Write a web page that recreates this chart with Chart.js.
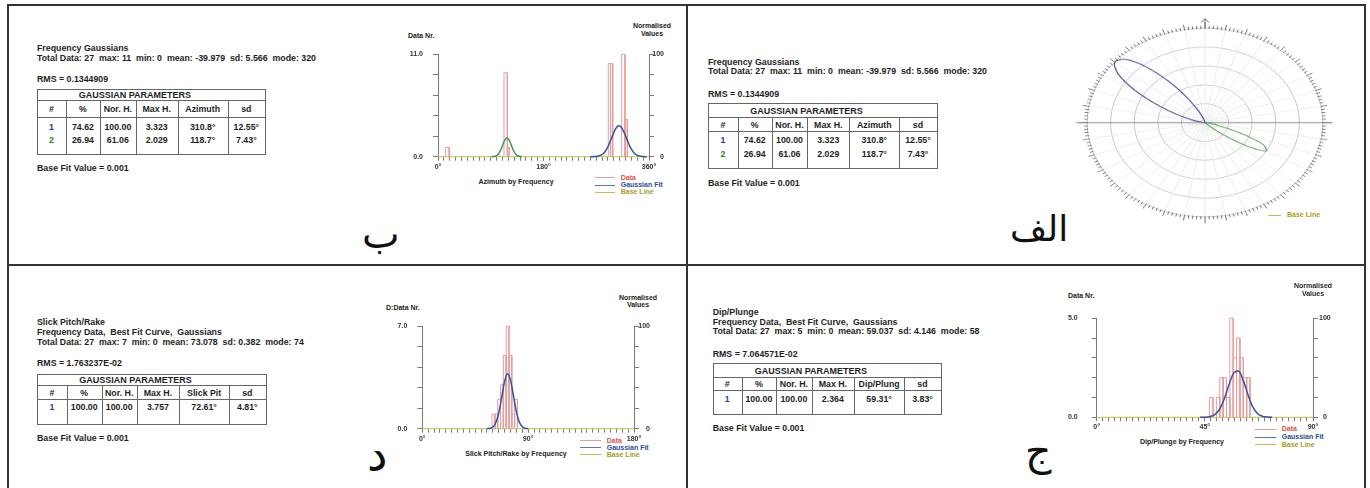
<!DOCTYPE html>
<html>
<head>
<meta charset="utf-8">
<script src="https://cdn.jsdelivr.net/npm/chart.js@4.4.1/dist/chart.umd.min.js"></script>
<style>
  body { margin:0; width:1370px; height:488px; background:#fff; position:relative; overflow:hidden;
         font-family:"Liberation Sans", Arial, sans-serif; color:#1e1e1e; }
  .rule { position:absolute; background:#333; }
  .t { position:absolute; font-weight:bold; font-size:8.8px; line-height:10px; white-space:pre; }
  .s { position:absolute; font-weight:bold; font-size:7px; line-height:7.6px; white-space:pre; color:#222; }
  .c { text-align:center; }
  .ar { position:absolute; font-family:"DejaVu Sans", sans-serif; color:#111; }
  canvas { position:absolute; }
  .ln { position:absolute; height:1px; }
</style>
</head>
<body>
<!-- frame -->
<div class="rule" style="left:7px;top:4px;width:1359px;height:2px"></div>
<div class="rule" style="left:7px;top:4px;width:2px;height:484px"></div>
<div class="rule" style="left:1364px;top:4px;width:2px;height:484px"></div>
<div class="rule" style="left:686px;top:4px;width:2px;height:484px"></div>
<div class="rule" style="left:7px;top:264px;width:1359px;height:2px"></div>

<!-- ب -->
<div class="t" style="left:37px;top:42.7px">Frequency Gaussians</div>
<div class="t" style="left:37px;top:53.3px">Total Data: 27  max: 11  min: 0  mean: -39.979  sd: 5.566  mode: 320</div>
<div class="t" style="left:37px;top:74.3px">RMS = 0.1344909</div>
<div id="tabB"></div>
<div class="t" style="left:37px;top:163.3px">Base Fit Value = 0.001</div>
<div class="ar" style="left:362px;top:214px;font-size:40px;line-height:40px">ب</div>
<div class="s" style="left:408px;top:32px">Data Nr.</div>
<div class="s c" style="left:622px;top:22px;width:60px">Normalised<br>Values</div>
<div class="s c" style="left:466px;top:178px;width:100px">Azimuth by Frequency</div>
<div id="legB"></div>
<canvas id="chartB" width="288" height="140" style="left:388px;top:40px"></canvas>

<!-- الف -->
<div class="t" style="left:708px;top:56.7px">Frequency Gaussians</div>
<div class="t" style="left:708px;top:66.3px">Total Data: 27  max: 11  min: 0  mean: -39.979  sd: 5.566  mode: 320</div>
<div class="t" style="left:708px;top:89px">RMS = 0.1344909</div>
<div id="tabA"></div>
<div class="t" style="left:708px;top:177.7px">Base Fit Value = 0.001</div>
<div class="ar" style="left:1010px;top:211px;font-size:36px;line-height:36px">الف</div>
<div style="position:absolute;left:1073px;top:17.1px;width:264px;height:264px;transform:scaleY(0.8);transform-origin:0 0">
  <canvas id="rose" width="264" height="264" style="left:0;top:0"></canvas>
</div>
<div id="legA"></div>

<!-- د -->
<div class="t" style="left:37px;top:316.7px">Slick Pitch/Rake</div>
<div class="t" style="left:37px;top:326.7px">Frequency Data,  Best Fit Curve,  Gaussians</div>
<div class="t" style="left:37px;top:336.7px">Total Data: 27  max: 7  min: 0  mean: 73.078  sd: 0.382  mode: 74</div>
<div class="t" style="left:37px;top:358.3px">RMS = 1.763237E-02</div>
<div id="tabD"></div>
<div class="t" style="left:37px;top:433.3px">Base Fit Value = 0.001</div>
<div class="ar" style="left:367px;top:432px;font-size:46px;line-height:46px">د</div>
<div class="s" style="left:386px;top:304px">D:Data Nr.</div>
<div class="s c" style="left:608px;top:293.5px;width:60px">Normalised<br>Values</div>
<div class="s c" style="left:456px;top:449.5px;width:120px">Slick Pitch/Rake by Frequency</div>
<div id="legD"></div>
<canvas id="chartD" width="282" height="140" style="left:380px;top:312px"></canvas>

<!-- ج -->
<div class="t" style="left:712.7px;top:306.7px">Dip/Plunge</div>
<div class="t" style="left:712.7px;top:316.7px">Frequency Data,  Best Fit Curve,  Gaussians</div>
<div class="t" style="left:712.7px;top:326.3px">Total Data: 27  max: 5  min: 0  mean: 59.037  sd: 4.146  mode: 58</div>
<div class="t" style="left:712.7px;top:349px">RMS = 7.064571E-02</div>
<div id="tabJ"></div>
<div class="t" style="left:712.7px;top:422.7px">Base Fit Value = 0.001</div>
<div class="ar" style="left:1025px;top:431px;font-size:41px;line-height:41px">ج</div>
<div class="s" style="left:1068px;top:292px">Data Nr.</div>
<div class="s c" style="left:1283px;top:282px;width:60px">Normalised<br>Values</div>
<div class="s c" style="left:1132px;top:438px;width:100px">Dip/Plunge by Frequency</div>
<div id="legJ"></div>
<canvas id="chartJ" width="293" height="140" style="left:1050px;top:300px"></canvas>

<script>
// ---- ب : azimuth histogram (Data Nr.) ----
const azBinLo = [13, 112.6, 118.3, 290.6, 294.4, 313.3, 319];
const azBinHi = [19, 118.3, 121.5, 294.4, 298.1, 319, 323];
const azCounts = [1, 9, 1, 10, 10, 11, 4];
const azFit1Deg = [260, 266, 272, 278, 283, 288, 293, 298, 303, 308, 313, 318, 323, 328, 333, 338, 344, 350, 356];
const azFit1Val = [0, 0.01, 0.045, 0.16, 0.40, 0.84, 1.50, 2.30, 2.99, 3.32, 3.14, 2.54, 1.75, 1.03, 0.52, 0.22, 0.065, 0.015, 0];
const azFit2Deg = [91, 97, 101, 105, 109, 113, 117, 121, 125, 129, 133, 137, 143];
const azFit2Val = [0, 0.04, 0.16, 0.47, 1.02, 1.66, 2.02, 1.84, 1.25, 0.64, 0.24, 0.07, 0];
const azXLabels = [0, 180, 360];

// ---- الف : rose of the two gaussians (normalised 0-100) ----
const roseBlueDeg = [270, 275, 280, 285, 290, 295, 300, 305, 310, 315, 320, 325, 330, 335, 340, 345, 350];
const roseBlueVal = [0.5, 1.7, 4.9, 12.1, 25.3, 45, 69, 89.9, 99.8, 94.5, 76.4, 52.7, 31, 15.5, 6.7, 2.4, 0.8];
const roseGreenDeg = [95, 100, 105, 110, 115, 120, 125, 130, 135, 140];
const roseGreenVal = [0.4, 2.6, 11.1, 30.9, 53.9, 59.9, 42.8, 19.2, 5.5, 1.0];

// ---- د : slick pitch/rake ----
const slBinLo = [59.3, 61.7, 64.1, 66.5, 68.9, 71.3, 73.7, 76.1, 78.5];
const slBinHi = [61.7, 64.1, 66.5, 68.9, 71.3, 73.7, 76.1, 78.5, 80.9];
const slCounts = [1, 1, 2, 3, 5, 7, 5, 1, 2];
const slFitDeg = [55, 57.5, 60, 62.5, 65, 67.5, 70, 72.5, 75, 77.5, 80, 82.5, 85, 87.5, 90];
const slFitVal = [0.005, 0.027, 0.12, 0.41, 1.07, 2.14, 3.24, 3.76, 3.32, 2.24, 1.15, 0.45, 0.14, 0.03, 0.005];
const slXLabels = [0, 90, 180];

// ---- ج : dip/plunge ----
const dpBinLo = [47.0, 49.8, 51.2, 52.6, 54.0, 55.4, 56.8, 58.2, 59.6, 61.0, 62.4];
const dpBinHi = [48.4, 51.2, 52.6, 54.0, 55.4, 56.8, 58.2, 59.6, 61.0, 62.4, 63.8];
const dpCounts = [1, 1, 2, 2, 1, 5, 3, 4, 3, 2, 2];
const dpFitDeg = [43, 45, 47, 49, 51, 53, 55, 57, 59, 61, 63, 65, 67, 69, 71, 73];
const dpFitVal = [0.001, 0.006, 0.03, 0.12, 0.38, 0.90, 1.63, 2.23, 2.33, 1.85, 1.12, 0.51, 0.18, 0.048, 0.01, 0.001];
const dpXLabels = [0, 45, 90];

// table rows
const tableHeadsAz = ['#', '%', 'Nor. H.', 'Max H.', 'Azimuth', 'sd'];
const tableRowsAz = [['1', '74.62', '100.00', '3.323', '310.8°', '12.55°'], ['2', '26.94', '61.06', '2.029', '118.7°', '7.43°']];
const tableHeadsSl = ['#', '%', 'Nor. H.', 'Max H.', 'Slick Pit', 'sd'];
const tableRowsSl = [['1', '100.00', '100.00', '3.757', '72.61°', '4.81°']];
const tableHeadsDp = ['#', '%', 'Nor. H.', 'Max H.', 'Dip/Plung', 'sd'];
const tableRowsDp = [['1', '100.00', '100.00', '2.364', '59.31°', '3.83°']];

const RED = '#e89c9c', BLUE = '#2f52a2', GREEN = '#3a9460', OLIVE = '#c2c04a', AXIS = '#7a7a7a';
const numColor = {'1': '#1c3d9c', '2': '#1d8a2a'};

Chart.defaults.font.family = '"Liberation Sans", Arial, sans-serif';
Chart.defaults.font.size = 7;
Chart.defaults.font.weight = 'bold';
Chart.defaults.color = '#333';
Chart.defaults.animation = false;

function paramTable(id, left, top, edges, lines, rowYs, heads, rows) {
  const box = document.getElementById(id);
  box.style.cssText = `position:absolute;left:${left}px;top:${top}px;`;
  const w = edges[edges.length - 1], h = lines[lines.length - 1];
  let html = '';
  lines.forEach(y => { html += `<div class="rule" style="background:#666;left:0;top:${y}px;width:${w + 1}px;height:1px"></div>`; });
  edges.forEach((x, i) => {
    const y0 = (i === 0 || i === edges.length - 1) ? 0 : lines[1];
    html += `<div class="rule" style="background:#666;left:${x}px;top:${y0}px;width:1px;height:${h - y0}px"></div>`;
  });
  const cell = (x0, x1, y, txt, color) =>
    `<div class="t" style="left:${x0}px;width:${x1 - x0}px;text-align:center;top:${y - 5}px;${color ? 'color:' + color : ''}">${txt}</div>`;
  html += `<div class="t" style="left:42px;top:${(lines[0] + lines[1]) / 2 - 4.5}px;font-size:9px">GAUSSIAN PARAMETERS</div>`;
  heads.forEach((t, i) => { html += cell(edges[i], edges[i + 1], (lines[1] + lines[2]) / 2 + 0.5, t); });
  rows.forEach((r, k) => r.forEach((t, i) => {
    html += cell(edges[i], edges[i + 1], rowYs[k], t, i === 0 ? numColor[t] : null);
  }));
  box.innerHTML = html;
}

paramTable('tabB', 36.7, 89.3, [0, 29.3, 63.3, 99, 141, 191, 228.3], [0, 11, 27.4, 65], [37.4, 50.7], tableHeadsAz, tableRowsAz);
paramTable('tabA', 708.3, 103.3, [0, 29.4, 63.4, 99, 141, 191, 228.4], [0, 14, 27.7, 65], [36.7, 51], tableHeadsAz, tableRowsAz);
paramTable('tabD', 37.3, 374, [0, 29.4, 64.4, 99.4, 142, 191.7, 228.4], [0, 11, 25.3, 50], [33.3], tableHeadsSl, tableRowsSl);
paramTable('tabJ', 712.7, 363.3, [0, 29, 63.3, 99, 141.3, 191.6, 228], [0, 14, 26.7, 50.7], [36], tableHeadsDp, tableRowsDp);

function legend(id, lineX, textX, ys, withData) {
  const items = [['Data', RED, '#e0524c'], ['Gaussian Fit', '#5a78b8', '#2a4d9b'], ['Base Line', OLIVE, '#a3a01e']];
  let html = '';
  items.forEach((it, i) => {
    if (!withData && i < 2) return;
    const y = ys[i];
    html += `<div class="ln" style="left:${lineX}px;top:${y}px;width:${textX - lineX - 6}px;background:${it[1]}"></div>`;
    html += `<div class="s" style="left:${textX}px;top:${y - 3.8}px;color:${it[2]}">${it[0]}</div>`;
  });
  document.getElementById(id).innerHTML = html;
}
legend('legB', 595, 620.7, [177.3, 184.7, 192], true);
legend('legD', 580, 606.7, [440.3, 447.3, 454.3], true);
legend('legJ', 1255, 1281.7, [429, 436.7, 444.3], true);
legend('legA', 1268, 1287, [0, 0, 215], false);

// histogram bars drawn as outlines on the linear scale
function outline(lo, hi, counts) {
  const pts = [];
  counts.forEach((c, i) => {
    pts.push({x: lo[i], y: 0}, {x: lo[i], y: c}, {x: hi[i], y: c}, {x: hi[i], y: 0}, {x: hi[i], y: null});
  });
  return pts;
}
function curve(xs, ys) { return xs.map((x, i) => ({x: x, y: ys[i]})); }
function fixW(w) { return s => { s.width = w; }; }
function fixH(h) { return s => { s.height = h; }; }

function histogram(id, g) {
  const fits = g.fits.map(f => ({
    data: curve(f.x, f.y), borderColor: f.color, borderWidth: 1.5, pointRadius: 0,
    cubicInterpolationMode: 'monotone', clip: false
  }));
  return new Chart(document.getElementById(id), {
    type: 'line',
    data: {
      datasets: fits.concat([
        { data: outline(g.lo, g.hi, g.counts), borderColor: RED, borderWidth: 1, pointRadius: 0, spanGaps: false, clip: false },
        { data: [{x: g.xMin, y: 0}, {x: g.xMax, y: 0}], borderColor: OLIVE, borderWidth: 1, pointRadius: 0, clip: false }
      ])
    },
    options: {
      responsive: false, devicePixelRatio: 1, events: [],
      layout: { padding: { top: g.padTop, right: 12, left: 0, bottom: 0 } },
      plugins: { legend: { display: false }, tooltip: { enabled: false } },
      scales: {
        x: {
          type: 'linear', min: g.xMin, max: g.xMax, afterFit: fixH(g.bottomH),
          ticks: { stepSize: g.xStep, autoSkip: false, maxRotation: 0, padding: 2,
                   callback: v => g.xLabels.includes(v) ? v + '°' : '' },
          grid: { drawOnChartArea: false, tickLength: 4, color: AXIS },
          border: { display: false }
        },
        y: {
          position: 'left', min: 0, max: g.yMax, afterFit: fixW(g.leftW),
          ticks: { count: 6, padding: g.yPad,
                   callback: (v, i, t) => (i === 0 || i === t.length - 1) ? v.toFixed(1) : '' },
          grid: { drawOnChartArea: false, tickLength: 5, color: AXIS },
          border: { color: AXIS }
        },
        y2: {
          position: 'right', min: 0, max: 100, afterFit: fixW(g.rightW),
          ticks: { stepSize: 20, padding: 1, crossAlign: g.rAlign, autoSkip: false,
                   callback: v => (v === 0 || v === 100) ? String(v) : '' },
          grid: { drawOnChartArea: false, tickLength: 5, color: AXIS },
          border: { color: AXIS }
        }
      }
    }
  });
}

histogram('chartB', {
  lo: azBinLo, hi: azBinHi, counts: azCounts,
  fits: [{x: azFit1Deg, y: azFit1Val, color: BLUE}, {x: azFit2Deg, y: azFit2Val, color: GREEN}],
  xMin: 0, xMax: 360, xStep: 10, xLabels: azXLabels, yMax: 11,
  padTop: 10.7, leftW: 50, rightW: 15, bottomH: 23.3, yPad: 10, rAlign: 'far'
});
histogram('chartD', {
  lo: slBinLo, hi: slBinHi, counts: slCounts,
  fits: [{x: slFitDeg, y: slFitVal, color: BLUE}],
  xMin: 0, xMax: 180, xStep: 5, xLabels: slXLabels, yMax: 7,
  padTop: 10.7, leftW: 42.3, rightW: 16, bottomH: 23.3, yPad: 10, rAlign: 'far'
});
histogram('chartJ', {
  lo: dpBinLo, hi: dpBinHi, counts: dpCounts,
  fits: [{x: dpFitDeg, y: dpFitVal, color: BLUE}],
  xMin: 0, xMax: 90, xStep: 2.5, xLabels: dpXLabels, yMax: 5,
  padTop: 11.7, leftW: 46.7, rightW: 18, bottomH: 22.7, yPad: 14, rAlign: 'center'
});

// rose diagram
const roseLabels = Array.from({length: 72}, (_, i) => i * 5);
function roseSeries(deg, val) {
  return roseLabels.map(a => { const k = deg.indexOf(a); return k < 0 ? 0 : val[k]; });
}
const compassRing = {
  id: 'compassRing',
  afterDraw(chart) {
    const s = chart.scales.r, ctx = chart.ctx, r = s.drawingArea, cx = s.xCenter, cy = s.yCenter;
    ctx.save();
    ctx.strokeStyle = '#707070';
    ctx.lineWidth = 1;
    ctx.beginPath();
    for (let d = 0; d < 360; d += 2) {
      const a = (d - 90) * Math.PI / 180;
      const outer = d % 90 === 0 ? r + 8 : d % 10 === 0 ? r + 6 : r + 3;
      ctx.moveTo(cx + Math.cos(a) * (r - 1), cy + Math.sin(a) * (r - 1));
      ctx.lineTo(cx + Math.cos(a) * outer, cy + Math.sin(a) * outer);
    }
    ctx.moveTo(cx - r - 11, cy); ctx.lineTo(cx + r + 10, cy);
    ctx.moveTo(cx, cy - r); ctx.lineTo(cx, cy - r - 12);
    ctx.moveTo(cx - 4, cy - r - 7); ctx.lineTo(cx, cy - r - 12); ctx.lineTo(cx + 4, cy - r - 7);
    ctx.stroke();
    ctx.restore();
  }
};
new Chart(document.getElementById('rose'), {
  type: 'radar',
  data: {
    labels: roseLabels,
    datasets: [
      { data: roseSeries(roseBlueDeg, roseBlueVal), borderColor: '#5858a6', borderWidth: 1.3, pointRadius: 0, fill: false, tension: 0.3 },
      { data: roseSeries(roseGreenDeg, roseGreenVal), borderColor: '#5aa85a', borderWidth: 1.3, pointRadius: 0, fill: false, tension: 0.3 }
    ]
  },
  options: {
    responsive: false, devicePixelRatio: 1, events: [],
    layout: { padding: 14 },
    plugins: { legend: { display: false }, tooltip: { enabled: false } },
    scales: {
      r: {
        min: 0, max: 100,
        ticks: { display: false, stepSize: 20 },
        pointLabels: { display: false },
        grid: { circular: true, color: '#c4c4c4' },
        angleLines: { color: c => c.index % 2 === 0 ? '#ececec' : 'rgba(0,0,0,0)' }
      }
    }
  },
  plugins: [compassRing]
});
</script>
</body>
</html>
